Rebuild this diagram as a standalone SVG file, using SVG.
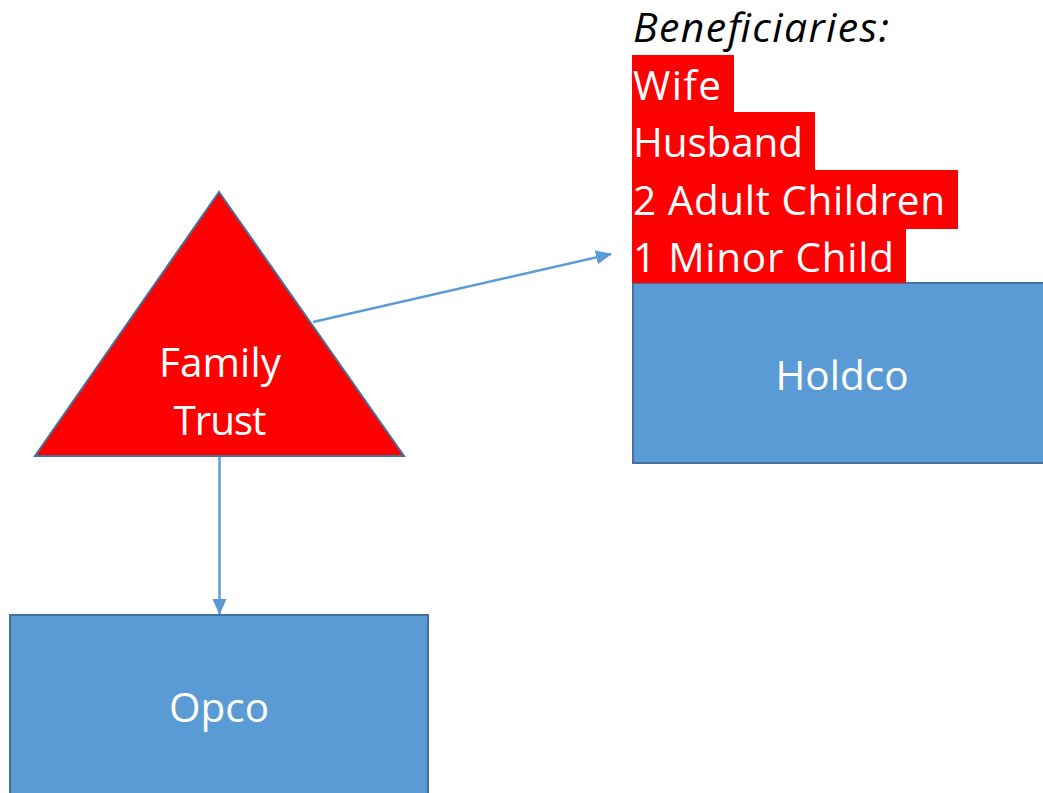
<svg xmlns="http://www.w3.org/2000/svg" width="1043" height="793" viewBox="0 0 1043 793">
<style>
.box{fill:#5B9BD5;stroke:#41719C;stroke-width:2}
.lbl{font-family:"Open Sans","Liberation Sans",sans-serif;font-size:40.5px;fill:#fff}
.conn{stroke:#5B9BD5;stroke-width:2.5;fill:none}
.hl{fill:#FF0000}
</style>
<defs>
<marker id="ah" markerUnits="userSpaceOnUse" markerWidth="16" markerHeight="16" viewBox="0 0 16 16" refX="15" refY="8" orient="auto">
<path d="M0,1 L16,8 L0,15 Z" fill="#5B9BD5"/>
</marker>
</defs>
<rect width="1043" height="793" fill="#fff"/>
<g id="connectors">
<line class="conn" x1="313" y1="322" x2="611" y2="254" marker-end="url(#ah)"/>
<line class="conn" x1="219.5" y1="457" x2="219.5" y2="614" marker-end="url(#ah)"/>
</g>
<g id="family-trust">
<polygon points="219,192 404,456 35,456" fill="#FF0000" stroke="#41719C" stroke-width="2"/>
<text class="lbl" x="220" y="377" text-anchor="middle" textLength="122">Family</text>
<text class="lbl" x="220" y="435" text-anchor="middle" textLength="93">Trust</text>
</g>
<g id="holdco">
<rect class="box" x="633" y="283" width="420" height="180"/>
<text class="lbl" x="842" y="390" text-anchor="middle" textLength="133">Holdco</text>
</g>
<g id="opco">
<rect class="box" x="10" y="615" width="418" height="190"/>
<text class="lbl" x="219" y="722" text-anchor="middle" textLength="100">Opco</text>
</g>
<g id="beneficiaries">
<text x="633" y="42" font-family="'Open Sans','Liberation Sans',sans-serif" font-size="41" font-style="italic" fill="#000" textLength="256">Beneficiaries:</text>
<rect class="hl" x="632" y="55" width="102" height="57"/>
<rect class="hl" x="632" y="112" width="183" height="58"/>
<rect class="hl" x="632" y="170" width="326" height="59"/>
<rect class="hl" x="632" y="229" width="274" height="54"/>
<text class="lbl" x="633" y="100" textLength="88">Wife</text>
<text class="lbl" x="633" y="157" textLength="170">Husband</text>
<text class="lbl" x="633" y="215" textLength="312">2 Adult Children</text>
<text class="lbl" x="633" y="272" textLength="261">1 Minor Child</text>
</g>
</svg>
